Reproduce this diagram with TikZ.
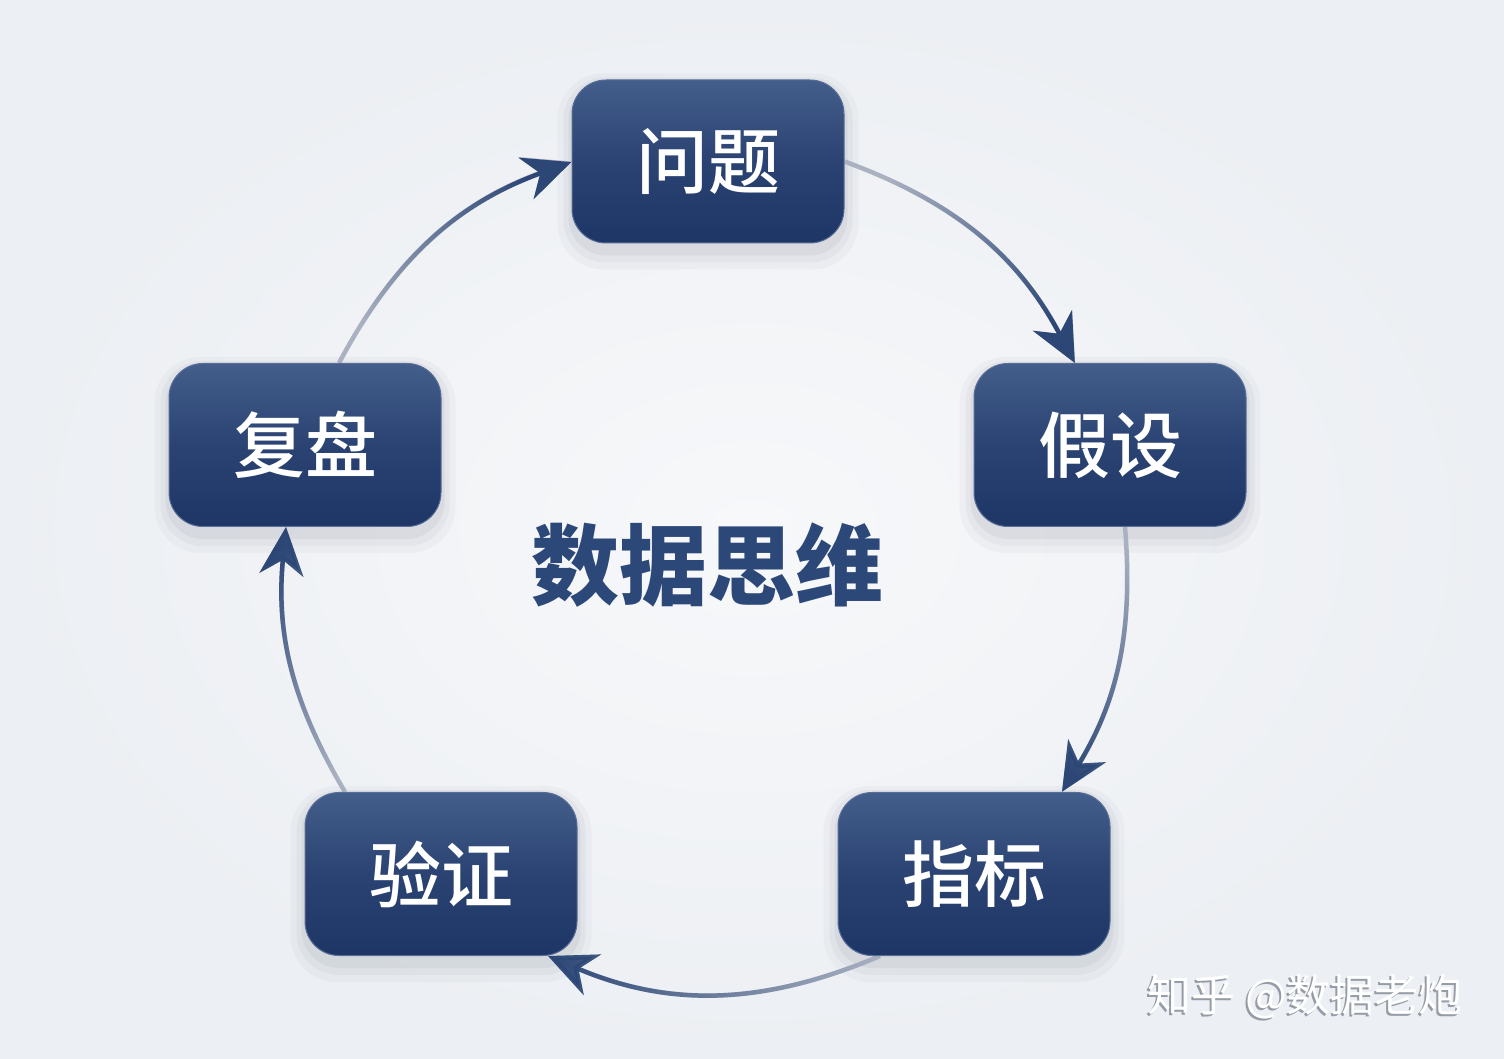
\documentclass[tikz,border=0pt]{standalone}
\usepackage{fontspec}
\newfontfamily\cjk{Noto Sans CJK SC}
\newfontfamily\cjkmed{Noto Sans CJK SC}[UprightFont={* Medium}]
\usetikzlibrary{arrows.meta,fadings,backgrounds}
\definecolor{bgIn}{RGB}{247,248,250}
\definecolor{bgOut}{RGB}{236,239,243}
\definecolor{nTop}{RGB}{68,94,140}
\definecolor{nMid}{RGB}{42,67,114}
\definecolor{nBot}{RGB}{30,54,102}
\definecolor{nEdge}{RGB}{88,110,150}
\definecolor{lGray}{RGB}{170,178,194}
\definecolor{lNavy}{RGB}{44,70,118}
\definecolor{cTitle}{RGB}{44,72,120}
\definecolor{shadowc}{RGB}{40,50,70}
\definecolor{wmShade}{RGB}{150,156,166}
\tikzfading[name=fadeR, left color=transparent!100, right color=transparent!0]
\begin{document}
\begin{tikzpicture}[x=1pt,y=1pt,
  box/.style={rounded corners=34pt, minimum width=272pt, minimum height=163pt, inner sep=0pt,
    top color=nTop, bottom color=nBot, middle color=nMid, draw=nEdge, line width=1pt,
    text=white, font=\cjkmed\fontsize{72}{80}\selectfont},
  link/.style={line width=4.5pt, draw=lGray, -{Stealth[length=48pt,width=44pt,inset=15pt]}},
  linkdark/.style={line width=4.5pt, draw=lNavy, -{Stealth[length=48pt,width=44pt,inset=15pt]},
    path fading=fadeR, fading angle=#1},
  wm/.style={font=\cjk\fontsize{44}{50}\selectfont, text=white},
  wmsh/.style={font=\cjk\fontsize{44}{50}\selectfont, text=wmShade},
  title/.style={font=\cjk\bfseries\fontsize{88}{96}\selectfont, text=cTitle}
  ]
\useasboundingbox (0,0) rectangle (1504,1058);

% nodes
\node[box] (q) at (708,896.5) {问题};
\node[box] (h) at (1110,613) {假设};
\node[box] (i) at (974,184) {指标};
\node[box] (v) at (441,184) {验证};
\node[box] (r) at (305,613) {复盘};
\node[title] (t) at (707,493) {数据思维};
\node[wmsh] (wms) at (1303,59) {知乎 @数据老炮};
\node[wm] (wmt) at (1305,61) {知乎 @数据老炮};

% background and shadows
\begin{scope}[on background layer]
  \fill[inner color=bgIn, outer color=bgOut] (0,0) rectangle (1504,1058);
  \foreach \n in {q,h,i,v,r}{
    \fill[shadowc, opacity=0.03, rounded corners=46pt] ([shift={(-14pt,-26pt)}]\n.south west) rectangle ([shift={(14pt,6pt)}]\n.north east);
    \fill[shadowc, opacity=0.04, rounded corners=42pt] ([shift={(-8pt,-19pt)}]\n.south west) rectangle ([shift={(8pt,2pt)}]\n.north east);
    \fill[shadowc, opacity=0.05, rounded corners=38pt] ([shift={(-3pt,-12pt)}]\n.south west) rectangle ([shift={(3pt,-2pt)}]\n.north east);
  }
  % connectors (light base)
  \draw[link] (q.east) to[bend left=21] ([xshift=-35pt]h.north);
  \draw[link] ([xshift=15pt]h.south) to[bend left=18] ([xshift=88pt]i.north);
  \draw[link] ([xshift=-94pt]i.south) to[bend left=23] ([xshift=107pt]v.south);
  \draw[link] ([xshift=-96pt]v.north) to[bend left=18] ([xshift=-19pt]r.south);
  \draw[link] ([xshift=34pt]r.north) to[bend left=21] (q.west);
  % connectors (dark, faded in)
  \draw[linkdark=-41] (q.east) to[bend left=21] ([xshift=-35pt]h.north);
  \draw[linkdark=-103] ([xshift=15pt]h.south) to[bend left=18] ([xshift=88pt]i.north);
  \draw[linkdark=180] ([xshift=-94pt]i.south) to[bend left=23] ([xshift=107pt]v.south);
  \draw[linkdark=102] ([xshift=-96pt]v.north) to[bend left=18] ([xshift=-19pt]r.south);
  \draw[linkdark=41] ([xshift=34pt]r.north) to[bend left=21] (q.west);
\end{scope}
\end{tikzpicture}
\end{document}
